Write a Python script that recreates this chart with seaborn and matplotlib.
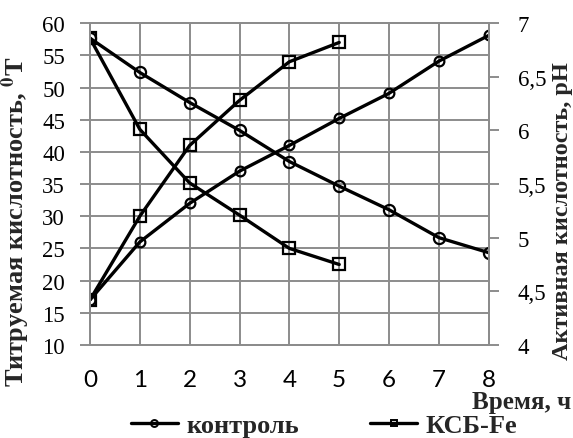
import numpy as np
import pandas as pd
import matplotlib
matplotlib.use("Agg")
import matplotlib.pyplot as plt
from matplotlib.lines import Line2D
import seaborn as sns

# values
hours_control = [0, 1, 2, 3, 4, 5, 6, 7, 8]
hours_fe = [0, 1, 2, 3, 4, 5]
acid_control = [17.0, 26.0, 32.0, 37.0, 41.0, 45.2, 49.1, 54.1, 58.1]
acid_fe = [17.0, 30.0, 41.0, 48.0, 54.0, 57.0]
ph_control = [6.86, 6.54, 6.26, 6.00, 5.71, 5.48, 5.26, 5.00, 4.86]
ph_fe = [6.86, 6.01, 5.51, 5.21, 4.90, 4.75]
series_names = ["контроль", "КСБ-Fe"]
x_ticks = list(range(0, 9))
left_ticks = list(range(10, 61, 5))
right_ticks = [4, 4.5, 5, 5.5, 6, 6.5, 7]
right_labels = ["4", "4,5", "5", "5,5", "6", "6,5", "7"]

sns.set_style("white")
plt.rcParams["mathtext.fontset"] = "stix"
serif = "Liberation Serif"
grid_col = "#8c8c8c"

fig = plt.figure(figsize=(5.73, 4.39), dpi=100)
ax = fig.add_axes([0.157, 0.212, 0.696, 0.733])
ax2 = ax.twinx()

line_kw = dict(color="black", linewidth=2.4, markerfacecolor="none",
               markeredgecolor="black", markeredgewidth=1.6)

sns.lineplot(x=hours_control, y=acid_control, ax=ax, marker="o", markersize=7, **line_kw)
sns.lineplot(x=hours_fe, y=acid_fe, ax=ax, marker="s", markersize=8, **line_kw)
sns.lineplot(x=hours_control, y=ph_control, ax=ax2, marker="o", markersize=8, **line_kw)
sns.lineplot(x=hours_fe, y=ph_fe, ax=ax2, marker="s", markersize=9, **line_kw)

ax.set_xlim(0, 8)
ax.set_ylim(10, 60)
ax2.set_ylim(4, 7)
ax.set_xticks(x_ticks)
ax.set_yticks(left_ticks)
ax2.set_yticks(right_ticks)
ax2.set_yticklabels(right_labels)

ax.grid(True, color=grid_col, linewidth=1.4)
ax.set_axisbelow(True)
for a in (ax, ax2):
    for s in a.spines.values():
        s.set_color(grid_col)
        s.set_linewidth(1.4)
    a.tick_params(colors=grid_col, length=7, width=1.4)
ax.tick_params(axis="x", labelcolor="black", labelsize=17.5, pad=10)
ax.tick_params(axis="y", labelcolor="black", labelsize=16.5, pad=11)
ax2.tick_params(axis="y", labelcolor="black", labelsize=16.5, pad=14)
for lab in ax.get_xticklabels():
    lab.set_fontfamily("Lato")
for lab in ax.get_yticklabels() + ax2.get_yticklabels():
    lab.set_fontfamily(serif)

ax.set_xlabel("")
ax.set_ylabel("Титруемая кислотность, $\\mathbf{^{0}}$T", fontfamily=serif,
              fontweight="bold", fontsize=19)
ax.yaxis.set_label_coords(-0.145, 0.385)
ax2.set_ylabel("Активная кислотность, pH", fontfamily=serif,
               fontweight="bold", fontsize=17.5)
ax2.yaxis.set_label_coords(1.158, 0.418)

fig.text(0.997, 0.069, "Время, ч", ha="right", va="baseline", fontfamily=serif,
         fontweight="bold", fontsize=18)

handles = [
    Line2D([], [], color="black", linewidth=2.4, marker="o", markersize=5,
           markerfacecolor="none", markeredgewidth=1.4),
    Line2D([], [], color="black", linewidth=2.4, marker="s", markersize=5,
           markerfacecolor="none", markeredgewidth=1.4),
]
fig.legend(handles, series_names, loc="center", bbox_to_anchor=(0.565, 0.029),
           ncol=2, frameon=False, handlelength=1.8, handletextpad=0.3,
           columnspacing=2.7, prop={"family": serif, "weight": "bold", "size": 19})

fig.savefig("out.png", dpi=100)
